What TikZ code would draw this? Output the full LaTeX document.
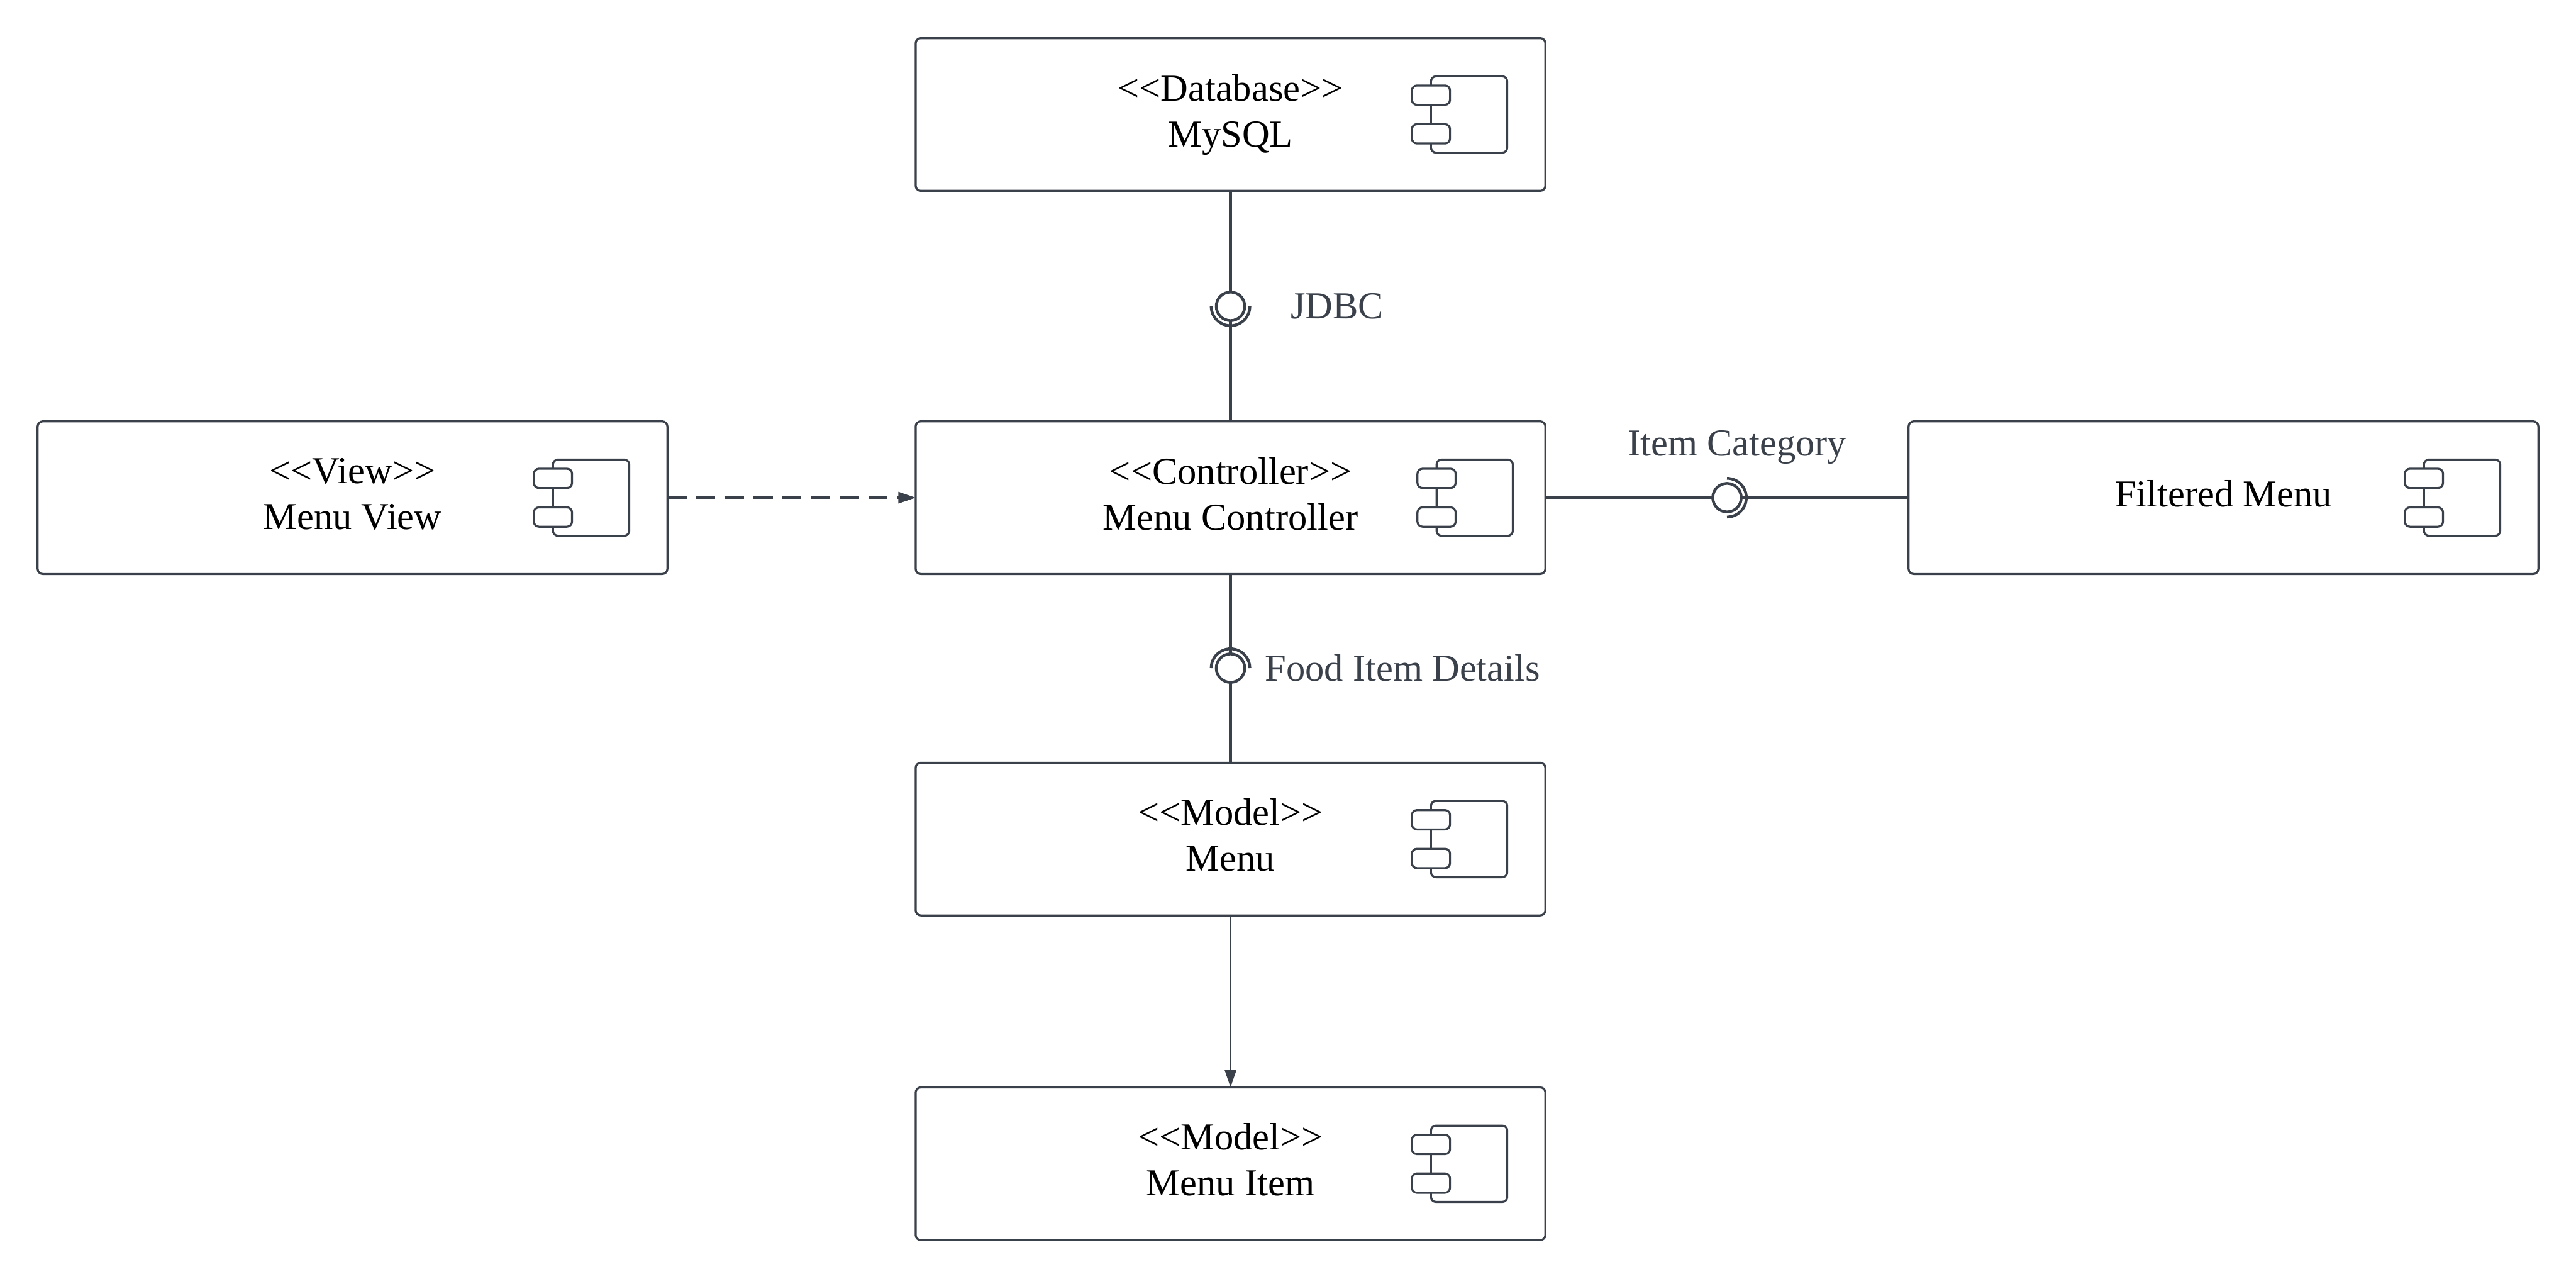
\documentclass[tikz,border=0pt]{standalone}
\usepackage{fontspec}
\setmainfont{Liberation Serif}[Ligatures=TeXOff]
\usetikzlibrary{
  arrows.meta,
  positioning
}
\definecolor{umlgray}{RGB}{58,65,74}
\tikzset{
  compBox/.style={
    rectangle,
    rounded corners=0.1cm,
    draw=umlgray,
    fill=white,
    line width=0.04cm,
    minimum width=12.38cm,
    minimum height=3cm,
    inner sep=0pt,
    outer sep=0pt,
    align=center,
    text depth=0.16cm,
    font=\fontsize{21.3}{25.7}\selectfont
  },
  compBody/.style={
    rectangle,
    rounded corners=0.1cm,
    draw=umlgray,
    line width=0.04cm,
    minimum width=1.5cm,
    minimum height=1.5cm,
    outer sep=0pt
  },
  compPort/.style={
    rectangle,
    rounded corners=0.1cm,
    draw=umlgray,
    fill=white,
    line width=0.04cm,
    minimum width=0.75cm,
    minimum height=0.38cm,
    outer sep=0pt
  },
  ifaceBall/.style={
    circle,
    draw=umlgray,
    line width=0.055cm,
    minimum size=0.56cm,
    inner sep=0pt,
    outer sep=0pt
  },
  ifaceLine/.style={
    draw=umlgray,
    line width=0.057cm
  },
  ifaceSocket/.style={
    draw=umlgray,
    line width=0.055cm
  },
  ifaceLabel/.style={
    text=umlgray,
    inner sep=0pt,
    outer sep=0pt,
    font=\fontsize{21.3}{25.7}\selectfont
  },
  depArrow/.style={
    -{Triangle[length=0.34cm,width=0.22cm]},
    draw=umlgray,
    fill=umlgray,
    line width=0.04cm
  }
}
\newcommand{\compIcon}[2]{
  \node[compBody, left=#2 of #1.east] (#1Body) {};
  \node[compPort] (#1PortA) at ([yshift=0.38cm]#1Body.west) {};
  \node[compPort] (#1PortB) at ([yshift=-0.38cm]#1Body.west) {};
}

\begin{document}
\begin{tikzpicture}
  \useasboundingbox (-24.19,9.78) rectangle (26.45,-15.35);

  \node[compBox] (ctrl) {<<Controller>>\\Menu Controller};
  \node[compBox, above=4.53cm of ctrl] (db) {<<Database>>\\MySQL};
  \node[compBox, left=4.88cm of ctrl] (view) {<<View>>\\Menu View};
  \node[compBox, right=7.14cm of ctrl] (filtered) {Filtered Menu};
  \node[compBox, below=3.71cm of ctrl] (menu) {<<Model>>\\Menu};
  \node[compBox, below=3.38cm of menu] (item) {<<Model>>\\Menu Item};

  \compIcon{db}{0.75cm}
  \compIcon{ctrl}{0.64cm}
  \compIcon{view}{0.75cm}
  \compIcon{filtered}{0.75cm}
  \compIcon{menu}{0.75cm}
  \compIcon{item}{0.75cm}

  \node[ifaceBall, below=1.99cm of db] (jdbc) {};
  \node[ifaceBall, below=1.57cm of ctrl] (food) {};
  \node[ifaceBall, right=3.29cm of ctrl] (category) {};

  \node[ifaceLabel, right=0.9cm of jdbc] (jdbcLabel) {JDBC};
  \node[ifaceLabel, right=0.4cm of food] (foodLabel) {Food Item Details};
  \node[ifaceLabel, above=0.38cm of category, xshift=0.2cm] (categoryLabel) {Item Category};

  \draw[ifaceLine] (db) -- (jdbc);
  \draw[ifaceLine] (jdbc) -- (ctrl);
  \draw[ifaceLine] (ctrl) -- (food);
  \draw[ifaceLine] (food) -- (menu);
  \draw[ifaceLine] (ctrl) -- (category);
  \draw[ifaceLine] (category) -- (filtered);

  \draw[ifaceSocket] ([xshift=-0.38cm]jdbc.center) arc[start angle=180, end angle=360, radius=0.38cm];
  \draw[ifaceSocket] ([xshift=-0.38cm]food.center) arc[start angle=180, end angle=0, radius=0.38cm];
  \draw[ifaceSocket] ([yshift=0.38cm]category.center) arc[start angle=90, end angle=-90, radius=0.38cm];

  \draw[depArrow, dash pattern=on 0.375cm off 0.19cm] (view) -- (ctrl);
  \draw[depArrow] (menu) -- (item);
\end{tikzpicture}
\end{document}
